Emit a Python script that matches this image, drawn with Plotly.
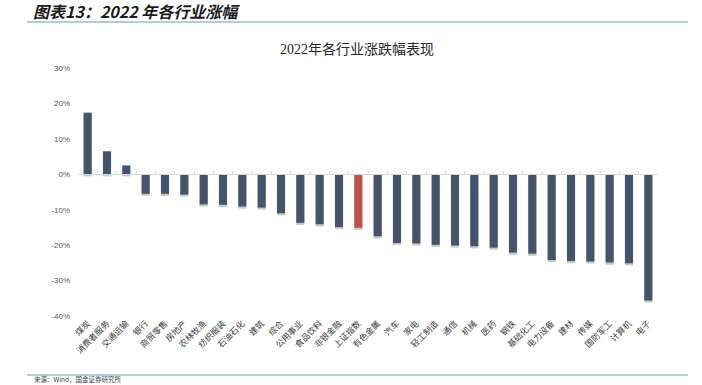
import plotly.graph_objects as go

categories = ["煤炭", "消费者服务", "交通运输", "银行", "商贸零售", "房地产", "农林牧渔", "纺织服装",
              "石油石化", "建筑", "综合", "公用事业", "食品饮料", "非银金融", "上证指数", "有色金属",
              "汽车", "家电", "轻工制造", "通信", "机械", "医药", "钢铁", "基础化工", "电力设备",
              "建材", "传媒", "国防军工", "计算机", "电子"]
values = [17.4, 6.5, 2.5, -5.5, -5.5, -5.7, -8.5, -8.6,
          -9.1, -9.4, -11.0, -13.7, -14.1, -14.9, -15.1, -17.5,
          -19.4, -19.5, -19.9, -20.1, -20.3, -20.7, -22.1, -22.4, -24.2,
          -24.5, -24.6, -24.9, -25.1, -35.6]
highlight = "上证指数"
y_ticks = [-40, -30, -20, -10, 0, 10, 20, 30]
y_ticktext = [f"{v}%" for v in y_ticks]

BAR = "#44546a"
RED = "#c0504d"
colors = [RED if c == highlight else BAR for c in categories]
idx = list(range(len(categories)))

fig = go.Figure()
# soft shadow under bars
fig.add_trace(go.Bar(x=idx, y=values, base=[-0.6] * len(values), width=0.42,
                     marker=dict(color="rgba(0,0,0,0.22)", line=dict(width=0)),
                     hoverinfo="skip", showlegend=False))
fig.add_trace(go.Bar(x=idx, y=values, width=0.42,
                     marker=dict(color=colors, line=dict(width=0)),
                     showlegend=False))

fig.update_layout(
    width=702, height=385,
    margin=dict(l=78, r=44, t=68, b=69),
    paper_bgcolor="white", plot_bgcolor="white",
    barmode="overlay",
    font=dict(family="Noto Sans CJK SC", color="#404040"),
    xaxis=dict(range=[-0.5, len(categories) - 0.5], tickmode="array",
               tickvals=idx, ticktext=categories, tickangle=-45, automargin=False,
               tickfont=dict(size=8.5, family="Noto Sans CJK SC", color="#404040"),
               showgrid=False, zeroline=False, showline=False, ticks=""),
    xaxis2=dict(range=[-0.5, len(categories) - 0.5], overlaying="x", anchor="free",
                position=40 / 70, side="bottom", showline=True, linecolor="#d9d9d9",
                linewidth=1, ticks="inside", ticklen=3, tickcolor="#d9d9d9", automargin=False,
                tickmode="array", tickvals=[i - 0.5 for i in range(len(categories) + 1)],
                showticklabels=False, showgrid=False, zeroline=False),
    yaxis=dict(range=[-40, 30], tickmode="array", tickvals=y_ticks, ticktext=y_ticktext,
               tickfont=dict(size=8, family="Liberation Sans", color="#595959"), automargin=False,
               showgrid=False, zeroline=False, showline=False, ticks="", ticklabelstandoff=7),
)
# invisible trace so that the zero-line axis renders
fig.add_trace(go.Scatter(x=[0], y=[0], xaxis="x2", mode="markers",
                         marker=dict(opacity=0), hoverinfo="skip", showlegend=False))

fig.add_annotation(text="2022年各行业涨跌幅表现", xref="paper", yref="paper",
                   x=(357 - 78) / 580, y=1, yshift=9, yanchor="bottom", showarrow=False,
                   font=dict(size=14, family="Liberation Serif, Noto Sans CJK SC", color="#262626"))
fig.add_annotation(text="<b><i>图表13：2022 年各行业涨幅</i></b>", xref="paper", yref="paper",
                   x=-78 / 580, xshift=31, xanchor="left", y=1, yshift=68 - 11, yanchor="middle",
                   showarrow=False, font=dict(size=16, family="Noto Sans CJK SC", color="#1a1a1a"))
fig.add_annotation(text="来源：Wind，国金证券研究所", xref="paper", yref="paper",
                   x=-78 / 580, xshift=33, xanchor="left", y=0, yshift=-69, yanchor="bottom",
                   borderpad=0, showarrow=False,
                   font=dict(size=6.5, family="Noto Sans CJK SC", color="#404040"))

line_color = "#9dbccb"
fig.add_shape(type="line", xref="paper", yref="paper", x0=-51 / 580, x1=610 / 580,
              y0=1 + 46 / 248, y1=1 + 46 / 248, line=dict(color=line_color, width=1.5))
fig.add_shape(type="line", xref="paper", yref="paper", x0=-51 / 580, x1=610 / 580,
              y0=-59 / 248, y1=-59 / 248, line=dict(color=line_color, width=1.5))

fig.write_html("out.html", config={"displayModeBar": False},
               post_script="document.body.style.margin='0';")
